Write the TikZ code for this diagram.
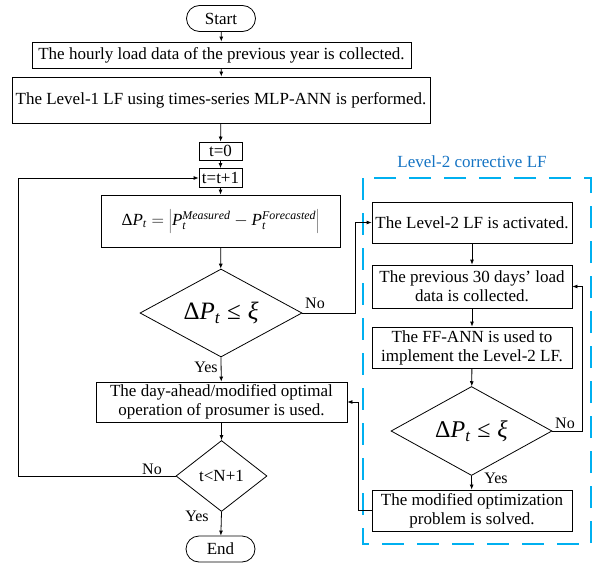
\documentclass[tikz,border=0pt]{standalone}
\usepackage{fontspec}
\setmainfont{Liberation Serif}
\usetikzlibrary{shapes.geometric,arrows.meta,calc}
\definecolor{titleblue}{RGB}{20,115,195}
\definecolor{dashblue}{RGB}{0,176,240}
\newcommand{\tP}{\mathit{P}}
\newcommand{\tDelta}{\mbox{Δ}}
\newcommand{\tle}{\mathrel{\mbox{≤}}}
\newcommand{\txi}{\mbox{\itshape ξ}}
\begin{document}
\begin{tikzpicture}[x=1pt,y=-1pt,
  font=\fontsize{17}{19}\selectfont,
  box/.style={draw,line width=0.8pt,inner sep=0pt,align=center},
  term/.style={draw,line width=0.8pt,inner sep=0pt,rounded corners=13pt,minimum width=69pt,minimum height=26pt},
  dec/.style={draw,line width=0.8pt,diamond,inner sep=0pt,aspect=1.8},
  arr/.style={line width=0.8pt,-{Latex[length=5pt,width=4pt]}},
  lbl/.style={font=\fontsize{16}{18}\selectfont,inner sep=0pt}]
\useasboundingbox (0,0) rectangle (596,564);
% left column
\node[term] (start) at (221,18.5) {Start};
\node[box,minimum width=379pt,minimum height=26pt] (hourly) at (221.5,55) {The hourly load data of the previous year is collected.};
\node[box,minimum width=418pt,minimum height=46pt] (lvl1) at (221,100) {The Level-1 LF using times-series MLP-ANN is performed.};
\node[box,minimum width=43pt,minimum height=18pt] (t0) at (220.5,151) {t=0};
\node[box,minimum width=43pt,minimum height=19pt] (tt1) at (220.5,178) {t=t+1};
\node[box,minimum width=239pt,minimum height=52pt] (dp) at (220.5,221) {$\tDelta\tP_{\mathit{t}} = \bigg| \tP_{\mathit{t}}^{\mathit{Measured}} - \tP_{\mathit{t}}^{\mathit{Forecasted}} \bigg|$};
\node[dec,minimum width=162pt,minimum height=88pt] (d1) at (221,313) {};
\node[font=\fontsize{25}{28}\selectfont] at (d1) {$\tDelta\tP_{\mathit{t}} \tle \txi$};
\node[box,minimum width=251pt,minimum height=40pt] (day) at (221.5,402) {The day-ahead/modified optimal\\operation of prosumer is used.};
\node[dec,minimum width=91pt,minimum height=71pt] (d2) at (221.5,476) {};
\node at (d2) {t<N+1};
\node[term] (end) at (220.5,549) {End};
% right column
\node[text=titleblue,inner sep=0pt] (title) at (472,162) {Level-2 corrective LF};
\draw[dashblue,line width=1.3pt,dash pattern=on 22pt off 13pt] (363,178) rectangle (591,544);
\node[box,minimum width=200pt,minimum height=41pt] (act) at (472,222.5) {The Level-2 LF is activated.};
\node[box,minimum width=200pt,minimum height=43pt] (prev) at (472,286.5) {The previous 30 days’ load\\data is collected.};
\node[box,minimum width=200pt,minimum height=41pt] (ff) at (472,347.5) {The FF-ANN is used to\\implement the Level-2 LF.};
\node[dec,minimum width=161pt,minimum height=89pt] (d3) at (471.5,431) {};
\node[font=\fontsize{24}{27}\selectfont] at (d3) {$\tDelta\tP_{\mathit{t}} \tle \txi$};
\node[box,minimum width=200pt,minimum height=41pt] (mod) at (472,510.5) {The modified optimization\\problem is solved.};
% connectors
\draw[arr] (start) -- (hourly);
\draw[arr] (hourly) -- (lvl1);
\draw[arr] (lvl1) -- (t0);
\draw[arr] (t0) -- (tt1);
\draw[arr] (tt1) -- (dp);
\draw[arr] (dp) -- (d1);
\draw[arr] (d1.south) -- (day);
\draw[arr] (day) -- (d2);
\draw[arr] (d2.south) -- (end);
\draw[arr] (d2.west) -- (18,476) |- (tt1.west);
\draw[arr] (d1.east) -- (355,313) |- (act.west);
\draw[arr] (act) -- (prev);
\draw[arr] (prev) -- (ff);
\draw[arr] (ff) -- (d3);
\draw[arr] (d3.south) -- (mod);
\draw[arr] (d3.east) -- (582,431) |- (prev.east);
\draw[arr] (mod.west) -- (358,510.5) |- (day.east);
% labels
\node[lbl] (y1) at (206,367) {Yes};
\node[lbl] (n1) at (315,303) {No};
\node[lbl] (y2) at (197,516) {Yes};
\node[lbl] (n2) at (152,469) {No};
\node[lbl] (y3) at (496,478) {Yes};
\node[lbl] (n3) at (565,423) {No};
\end{tikzpicture}
\end{document}
